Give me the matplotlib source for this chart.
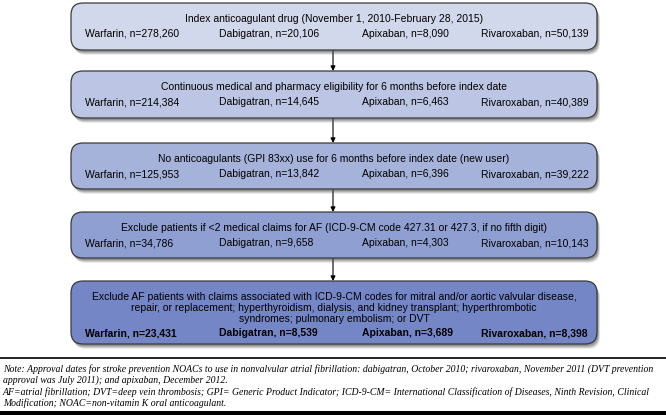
import matplotlib.pyplot as plt
from matplotlib.patches import FancyBboxPatch

# flow chart content
steps = [
    "Index anticoagulant drug (November 1, 2010-February 28, 2015)",
    "Continuous medical and pharmacy eligibility for 6 months before index date",
    "No anticoagulants (GPI 83xx) use for 6 months before index date (new user)",
    "Exclude patients if <2 medical claims for AF (ICD-9-CM code 427.31 or 427.3, if no fifth digit)",
    "Exclude AF patients with claims associated with ICD-9-CM codes for mitral and/or aortic valvular disease,\n"
    "repair, or replacement; hyperthyroidism, dialysis, and kidney transplant; hyperthrombotic\n"
    "syndromes; pulmonary embolism; or DVT",
]
drugs = ["Warfarin", "Dabigatran", "Apixaban", "Rivaroxaban"]
warfarin = [278260, 214384, 125953, 34786, 23431]
dabigatran = [20106, 14645, 13842, 9658, 8539]
apixaban = [8090, 6463, 6396, 4303, 3689]
rivaroxaban = [50139, 40389, 39222, 10143, 8398]

notes = [
    "Note: Approval dates for stroke prevention NOACs to use in nonvalvular atrial fibrillation: dabigatran, October 2010; rivaroxaban, November 2011 (DVT prevention",
    "approval was July 2011); and apixaban, December 2012.",
    "AF=atrial fibrillation; DVT=deep vein thrombosis; GPI= Generic Product Indicator; ICD-9-CM= International Classification of Diseases, Ninth Revision, Clinical",
    "Modification; NOAC=non-vitamin K oral anticoagulant.",
]

# layout in pixels (y goes down)
W, H = 666, 415
left, right = 71, 597
tops = [3, 71, 143, 212, 281]
heights = [47, 47, 46, 46, 63]
colors = ["#d2d8ec", "#bcc5e3", "#a5b2da", "#8f9fd2", "#7586c6"]
col_x = [85, 219, 362, 481]

fig = plt.figure(figsize=(W / 100, H / 100), dpi=100)
ax = fig.add_axes([0, 0, 1, 1])
ax.set_xlim(0, W)
ax.set_ylim(H, 0)
ax.axis("off")

sans = ["Liberation Sans", "DejaVu Sans"]
counts = list(zip(warfarin, dabigatran, apixaban, rivaroxaban))

for i, (top, h, c) in enumerate(zip(tops, heights, colors)):
    # soft drop shadow
    for k, a in [(5, 0.12), (4, 0.18), (3, 0.25), (2, 0.3)]:
        sh = FancyBboxPatch((left + k * 0.6, top + k), right - left, h,
                            boxstyle="round,pad=0,rounding_size=12",
                            fc="#555555", ec="none", alpha=a, zorder=2)
        ax.add_patch(sh)
    box = FancyBboxPatch((left, top), right - left, h,
                         boxstyle="round,pad=0,rounding_size=12",
                         fc=c, ec="#3a3a3a", lw=0.9, zorder=3)
    ax.add_patch(box)

    last = i == len(tops) - 1
    if last:
        ax.text((left + right) / 2, top + 27, steps[i], ha="center", va="center",
                fontsize=7.5, family=sans, linespacing=1.15, zorder=4)
        row_y = top + 52
    else:
        ax.text((left + right) / 2, top + 16, steps[i], ha="center", va="center",
                fontsize=7.5, family=sans, zorder=4)
        row_y = top + 31
    for x, d, n in zip(col_x, drugs, counts[i]):
        ax.text(x, row_y, f"{d}, n={n:,}", ha="left", va="center",
                fontsize=7.5, family=sans, zorder=4,
                fontweight="bold" if last else "normal")

    if not last:
        ax.annotate("", xy=(333, tops[i + 1]), xytext=(333, top + h),
                    arrowprops=dict(arrowstyle="-|>", color="black", lw=0.8,
                                    mutation_scale=7, shrinkA=0, shrinkB=0),
                    zorder=1)

# notes
ax.plot([0, W], [358, 358], color="black", lw=1.2)
for j, line in enumerate(notes):
    ax.text(3, 369 + j * 11.5, line, ha="left", va="center", fontsize=7,
            family=["Liberation Serif", "DejaVu Serif"], style="italic")
ax.add_patch(plt.Rectangle((0, 411), W, 4, fc="black", ec="none"))

fig.savefig("out.png", dpi=100)
